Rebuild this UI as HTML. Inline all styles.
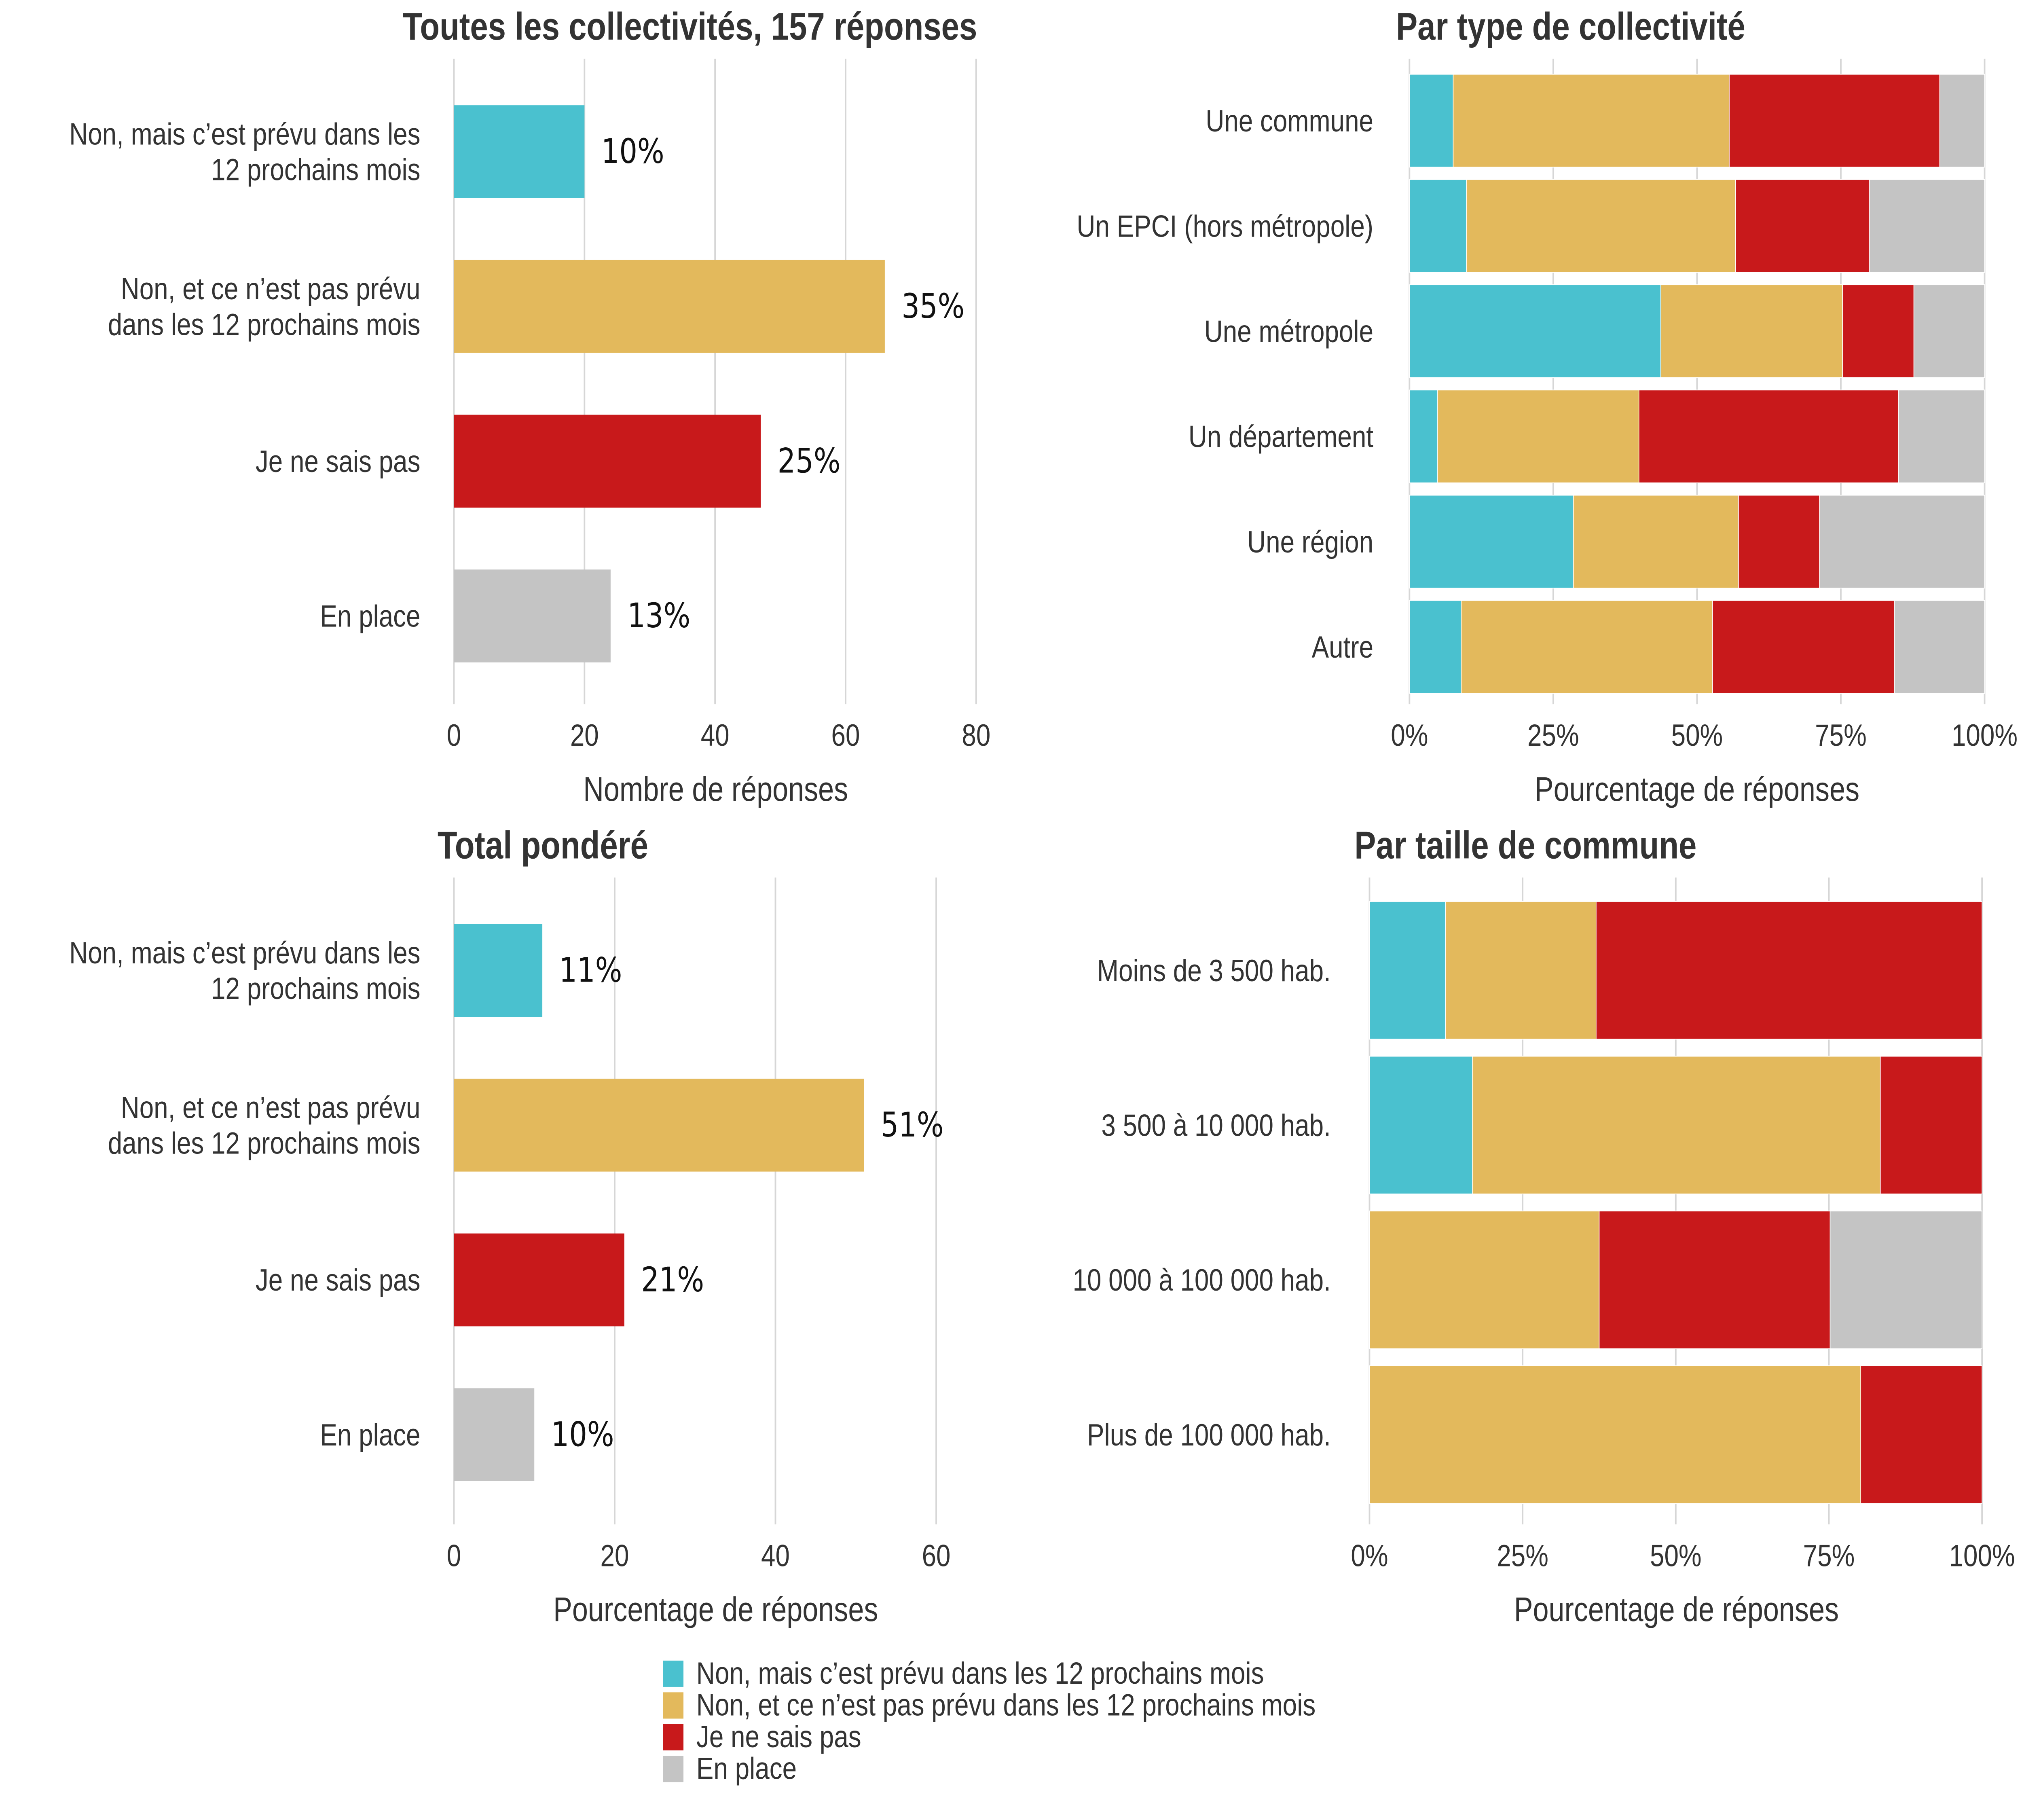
<!DOCTYPE html>
<html><head><meta charset="utf-8"><style>
html,body{margin:0;padding:0;background:#fff;overflow:hidden;width:100%;height:100%;}
svg{display:block;width:100vw;height:100vh;}
text{font-family:"Liberation Sans",sans-serif;fill:#333;}
</style></head><body>
<svg id="c" xmlns="http://www.w3.org/2000/svg" viewBox="0 0 1568 1176" preserveAspectRatio="none"></svg>
<script>
const colors = ["#4ac1cf","#e3b95c","#c8191b","#c4c4c4"];
const answerLabels = ["Non, mais c\u2019est prévu dans les 12 prochains mois","Non, et ce n\u2019est pas prévu dans les 12 prochains mois","Je ne sais pas","En place"];
// Panel 1
const p1Cats = [["Non, mais c\u2019est prévu dans les","12 prochains mois"],["Non, et ce n\u2019est pas prévu","dans les 12 prochains mois"],["Je ne sais pas"],["En place"]];
const p1Values = [20,66,47,24];
const p1Pct = ["10%","35%","25%","13%"];
const p1Ticks = [0,20,40,60,80];
// Panel 3
const p3Values = [11,51,21.2,10];
const p3Pct = ["11%","51%","21%","10%"];
const p3Ticks = [0,20,40,60];
// Panel 2
const p2Cats = ["Une commune","Un EPCI (hors métropole)","Une métropole","Un département","Une région","Autre"];
const p2Teal = [7.6,9.9,43.7,4.9,28.5,9.0];
const p2Gold = [48.0,46.8,31.6,35.0,28.7,43.7];
const p2Red = [36.6,23.3,12.4,45.1,14.1,31.6];
const p2Grey = [7.8,20.0,12.3,15.0,28.7,15.7];
// Panel 4
const p4Cats = ["Moins de 3 500 hab.","3 500 à 10 000 hab.","10 000 à 100 000 hab.","Plus de 100 000 hab."];
const p4Teal = [12.4,16.8,0,0];
const p4Gold = [24.6,66.6,37.5,80.2];
const p4Red = [63.0,16.6,37.7,19.8];
const p4Grey = [0,0,24.8,0];
const pctTicks = [0,25,50,75,100];

const svg = document.getElementById('c');
const NS = "http://www.w3.org/2000/svg";
function mk(tag, attrs, parent){const e=document.createElementNS(NS,tag);for(const k in attrs)e.setAttribute(k,attrs[k]);(parent||svg).appendChild(e);return e;}
function txt(x,y,s,size,anchor,parent,weight){const t=mk('text',{x:x,y:y,'font-size':size,'text-anchor':anchor||'start','dominant-baseline':'central'},parent);if(weight)t.setAttribute('font-weight',weight);t.textContent=s;return t;}

function simplePanel(name,x0,x1,vmax,ticks,values,pct,yTop,yBot,rowY,title,titleX,axisTitle,axisX){
  const g=mk('g',{});
  
  
  const sx=v=>x0+(x1-x0)*v/vmax;
  ticks.forEach(t=>{
    const l=mk('line',{x1:sx(t),x2:sx(t),y1:yTop,y2:yBot,stroke:'#d6d6d6','stroke-width':1.2},g);
    
    
    const tl=txt(sx(t),yBot+20,String(t),20,'middle',g);
    
    
  });
  values.forEach((v,i)=>{
    const r=mk('rect',{x:x0,y:rowY[i]-30,width:sx(v)-x0,height:60,fill:colors[i]},g);
    
    
    const vl=mk('text',{x:sx(v)+13,y:rowY[i],'font-size':22,'dominant-baseline':'central',style:'font-family:"DejaVu Sans",sans-serif;fill:#111'},g);
    vl.textContent=pct[i];
    
    
    const lines=p1Cats[i];
    lines.forEach((s,j)=>{
      const cl=txt(326,rowY[i]+(j-(lines.length-1)/2)*23,s,20,'end',g);
      
      
    });
  });
  const tt=txt(titleX,yTop-21,title,25,'middle',g,'bold');
  
  
  const at=txt(axisX,yBot+55,axisTitle,22,'middle',g);
  
  
}

function stackPanel(name,x0,x1,cats,series,rowY,h,yTop,yBot,labelX,title,titleX,axisX){
  const g=mk('g',{});
  
  
  const sx=v=>x0+(x1-x0)*v/100;
  pctTicks.forEach(t=>{
    const l=mk('line',{x1:sx(t),x2:sx(t),y1:yTop,y2:yBot,stroke:'#d6d6d6','stroke-width':1.2},g);
    
    
    const tl=txt(sx(t),yBot+20,t+'%',20,'middle',g);
    
    
  });
  cats.forEach((c,i)=>{
    let acc=0;
    series.forEach((s,k)=>{
      const v=s[i];
      if(v>0){
        const r=mk('rect',{x:sx(acc),y:rowY[i]-h/2,width:sx(acc+v)-sx(acc),height:h,fill:colors[k],stroke:'#fff','stroke-width':0.5},g);
        
        
      }
      acc+=v;
    });
    const cl=txt(labelX,rowY[i],c,20,'end',g);
    
    
  });
  const tt=txt(titleX,yTop-21,title,25,'middle',g,'bold');
  
  
  const at=txt(axisX,yBot+55,'Pourcentage de réponses',22,'middle',g);
  
  
}

simplePanel('panel-all-responses',352,757,80,p1Ticks,p1Values,p1Pct,38,455,[98,198,298,398],'Toutes les collectivités, 157 réponses',535,'Nombre de réponses',555);
simplePanel('panel-weighted-total',352,726,60,p3Ticks,p3Values,p3Pct,567,985,[627,727,827,927],'Total pondéré',421,'Pourcentage de réponses',555);
stackPanel('panel-by-type',1093,1539,p2Cats,[p2Teal,p2Gold,p2Red,p2Grey],[78,146,214,282,350,418],60,38,455,1065,'Par type de collectivité',1218,1316);
stackPanel('panel-by-size',1062,1537,p4Cats,[p4Teal,p4Gold,p4Red,p4Grey],[627,727,827,927],89,567,985,1032,'Par taille de commune',1183,1300);

const lg=mk('g',{});


answerLabels.forEach((s,i)=>{
  const y=1081+i*20.5;
  const r=mk('rect',{x:514,y:y-8,width:16,height:17,fill:colors[i]},lg);
  
  
  const t=txt(540,y,s,20,'start',lg);
  
  
});
</script>
</body></html>
